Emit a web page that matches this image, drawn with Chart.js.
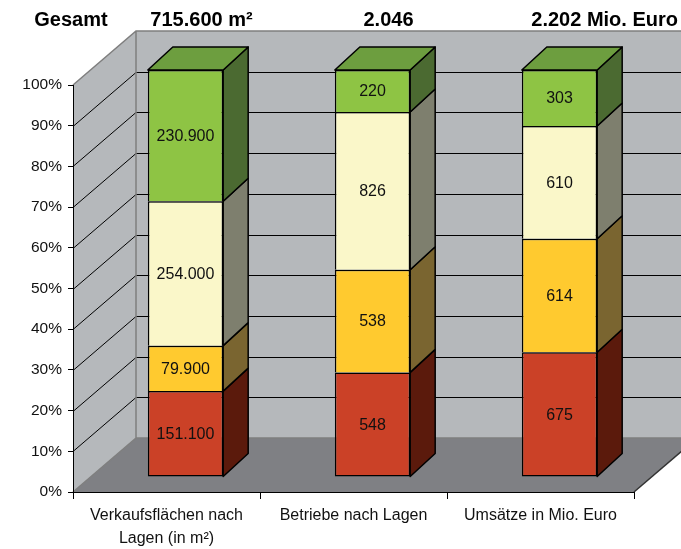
<!DOCTYPE html>
<html>
<head>
<meta charset="utf-8">
<script src="https://cdn.jsdelivr.net/npm/chart.js@4.4.1/dist/chart.umd.min.js"></script>
<style>
  html, body { margin: 0; padding: 0; background: #fff; }
  canvas { display: block; }
</style>
</head>
<body>
<canvas id="lagen" width="681" height="549"></canvas>
<script>
// Data
var categories = [['Verkaufsflächen nach', 'Lagen (in m²)'], 'Betriebe nach Lagen', 'Umsätze in Mio. Euro'];
var headerLead = 'Gesamt';
var headerTotals = ['715.600 m²', '2.046', '2.202 Mio. Euro'];
var seriesNames = ['Lage 1', 'Lage 2', 'Lage 3', 'Lage 4'];
var redValues = [151100, 548, 675];
var yellowValues = [79900, 538, 614];
var creamValues = [254000, 826, 610];
var greenValues = [230900, 220, 303];
var yTickStep = 10;

// Colors
var frontColors = ['#cb4127', '#ffca2f', '#faf7c9', '#8ec444'];
var sideColors = ['#5b1a0c', '#7a6530', '#7e7f6e', '#4b6a31'];
var topColor = '#6d9e3f';
var wallColor = '#b5b8bb';
var floorColor = '#7f8084';
var edgeColor = '#7f7f7f';
var textColor = '#111';

// Depth of walls, bar offset and bar depth (px)
var WX = 63, WY = 54;
var OX = 19, OY = 15;
var BX = 25, BY = 23;

var allSeries = [redValues, yellowValues, creamValues, greenValues];

function totalOf(i) {
  var s = 0;
  allSeries.forEach(function (arr) { s += arr[i]; });
  return s;
}

function percentOf(arr) {
  return arr.map(function (v, i) { return v / totalOf(i) * 100; });
}

function fmt(n) {
  return String(n).replace(/\B(?=(\d{3})+(?!\d))/g, '.');
}

function poly(ctx, pts, fill, stroke, lw) {
  ctx.beginPath();
  ctx.moveTo(pts[0][0], pts[0][1]);
  for (var i = 1; i < pts.length; i++) ctx.lineTo(pts[i][0], pts[i][1]);
  ctx.closePath();
  if (fill) { ctx.fillStyle = fill; ctx.fill(); }
  if (stroke) { ctx.strokeStyle = stroke; ctx.lineWidth = lw || 1; ctx.stroke(); }
}

var depth3d = {
  id: 'depth3d',
  beforeDraw: function (chart) {
    var ctx = chart.ctx, a = chart.chartArea, y = chart.scales.y;
    var L = a.left, R = a.right, T = a.top, B = a.bottom;
    ctx.save();
    // back wall
    poly(ctx, [[L + WX, T - WY], [R + WX, T - WY], [R + WX, B - WY], [L + WX, B - WY]], wallColor);
    // side wall
    poly(ctx, [[L, T], [L + WX, T - WY], [L + WX, B - WY], [L, B]], wallColor);
    // floor
    poly(ctx, [[L, B], [R, B], [R + WX, B - WY], [L + WX, B - WY]], floorColor);

    // grid lines
    ctx.strokeStyle = '#000';
    ctx.lineWidth = 1;
    for (var v = yTickStep; v < 100; v += yTickStep) {
      var py = Math.round(y.getPixelForValue(v)) + 0.5;
      ctx.beginPath();
      ctx.moveTo(L, py);
      ctx.lineTo(L + WX, py - WY);
      ctx.lineTo(R + WX, py - WY);
      ctx.stroke();
    }

    // wall edges
    ctx.strokeStyle = edgeColor;
    ctx.lineWidth = 1.5;
    ctx.beginPath();
    ctx.moveTo(L, T);
    ctx.lineTo(L + WX, T - WY);
    ctx.lineTo(R + WX, T - WY);
    ctx.moveTo(L + WX, T - WY);
    ctx.lineTo(L + WX, B - WY);
    ctx.lineTo(R + WX, B - WY);
    ctx.moveTo(L, B);
    ctx.lineTo(L + WX, B - WY);
    ctx.stroke();
    ctx.strokeStyle = '#333';
    ctx.beginPath();
    ctx.moveTo(R, B);
    ctx.lineTo(R + WX, B - WY);
    ctx.stroke();
    ctx.restore();
  },
  beforeDatasetsDraw: function (chart) {
    chart.ctx.save();
    chart.ctx.translate(OX, -OY);
  },
  afterDatasetsDraw: function (chart) {
    var ctx = chart.ctx;
    var n = chart.data.datasets.length;
    ctx.lineJoin = 'round';
    for (var d = 0; d < n; d++) {
      var meta = chart.getDatasetMeta(d);
      meta.data.forEach(function (el, i) {
        var p = el.getProps(['x', 'y', 'base', 'width'], true);
        var left = p.x - p.width / 2, right = p.x + p.width / 2;
        var top = Math.min(p.y, p.base), bottom = Math.max(p.y, p.base);
        poly(ctx, [[right, top], [right + BX, top - BY], [right + BX, bottom - BY], [right, bottom]], sideColors[d], '#000', 1.5);
        if (d === n - 1) {
          poly(ctx, [[left, top], [left + BX, top - BY], [right + BX, top - BY], [right, top]], topColor, '#000', 1.5);
        }
        ctx.fillStyle = textColor;
        ctx.font = '16px "Liberation Sans", Arial, sans-serif';
        ctx.textAlign = 'center';
        ctx.textBaseline = 'middle';
        ctx.fillText(fmt(allSeries[d][i]), p.x, (top + bottom) / 2 + 1);
      });
    }
    ctx.restore();
  },
  afterDraw: function (chart) {
    var ctx = chart.ctx, a = chart.chartArea, x = chart.scales.x;
    ctx.save();
    ctx.fillStyle = '#000';
    ctx.font = 'bold 20px "Liberation Sans", Arial, sans-serif';
    ctx.textBaseline = 'alphabetic';
    ctx.textAlign = 'center';
    ctx.fillText(headerLead, a.left - 2, 26);
    headerTotals.forEach(function (t, i) {
      var cx = x.getPixelForValue(i) + 35;
      var w = ctx.measureText(t).width;
      // last total sits flush with the right edge
      if (i === headerTotals.length - 1) cx = chart.width - 3 - w / 2;
      ctx.fillText(t, cx, 26);
    });
    ctx.restore();
  }
};

var datasets = allSeries.map(function (arr, d) {
  return {
    label: seriesNames[d],
    data: percentOf(arr),
    backgroundColor: frontColors[d],
    borderColor: '#000',
    borderWidth: 1.5,
    borderSkipped: d === 0 ? false : 'bottom',
    barPercentage: 0.403,
    categoryPercentage: 1,
    clip: false
  };
});

var lagenChart = new Chart(document.getElementById('lagen'), {
  type: 'bar',
  plugins: [depth3d],
  data: {
    labels: categories,
    datasets: datasets
  },
  options: {
    responsive: false,
    animation: false,
    layout: {
      padding: { top: 85, right: 47, left: 0, bottom: 0 }
    },
    plugins: {
      legend: { display: false },
      tooltip: { enabled: false }
    },
    scales: {
      x: {
        stacked: true,
        afterFit: function (scale) { scale.height = 57; },
        grid: { drawOnChartArea: false, offset: true, tickLength: 7, color: '#000', lineWidth: 1 },
        border: { display: true, color: '#000', width: 1 },
        ticks: {
          color: textColor,
          padding: 5,
          maxRotation: 0,
          autoSkip: false,
          font: { family: '"Liberation Sans", Arial, sans-serif', size: 16, lineHeight: 1.45 }
        }
      },
      y: {
        stacked: true,
        min: 0,
        max: 100,
        afterFit: function (scale) { scale.width = 73; },
        grid: { drawOnChartArea: false, tickLength: 5, color: '#000', lineWidth: 1 },
        border: { display: true, color: '#000', width: 1 },
        ticks: {
          stepSize: yTickStep,
          color: textColor,
          padding: 6,
          font: { family: '"Liberation Sans", Arial, sans-serif', size: 15.5 },
          callback: function (v) { return v + '%'; }
        }
      }
    }
  }
});
</script>
</body>
</html>
